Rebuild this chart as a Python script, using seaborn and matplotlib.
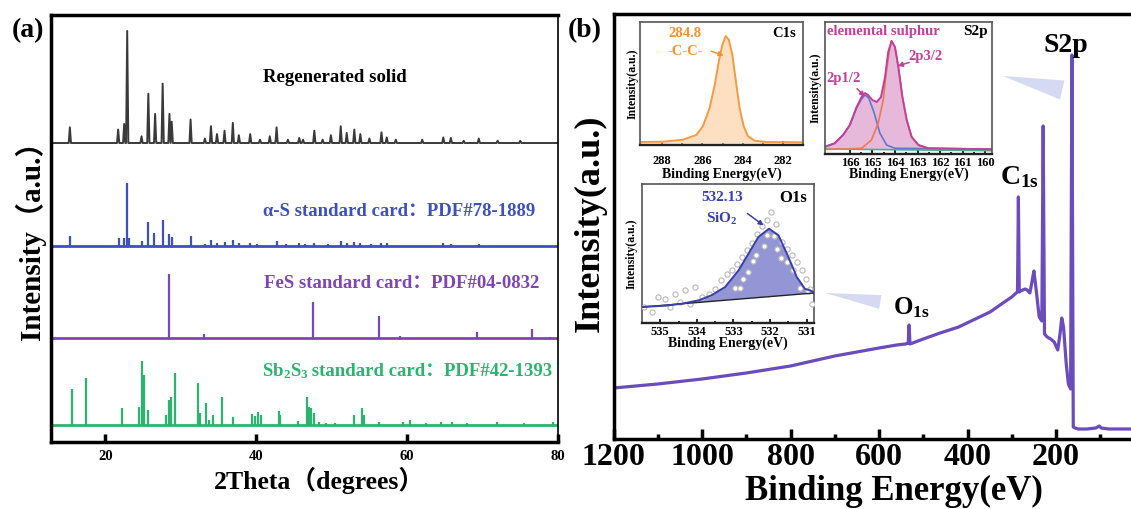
import numpy as np
import pandas as pd
import matplotlib
matplotlib.use("Agg")
import matplotlib.pyplot as plt
from matplotlib.ticker import FixedLocator
import seaborn as sns

# ---------------- panel (a): XRD data ----------------
regen_2theta = [15.3, 21.7, 22.5, 22.9, 24.8, 25.7, 26.6, 27.6, 28.5, 28.8, 31.3, 33.2, 34.0, 34.8,
                35.8, 36.9, 37.7, 39.2, 40.5, 41.8, 42.7, 44.2, 45.7, 46.2, 47.7, 48.8, 49.9, 51.2,
                52.0, 53.0, 53.8, 55.0, 56.6, 57.3, 58.5, 62.0, 64.8, 65.8, 67.5, 69.5, 72.0, 75.0]
regen_int = [0.14, 0.12, 0.17, 1.0, 0.06, 0.44, 0.26, 0.53, 0.26, 0.19, 0.21, 0.04, 0.15, 0.08,
             0.11, 0.18, 0.07, 0.08, 0.03, 0.06, 0.14, 0.03, 0.045, 0.03, 0.11, 0.03, 0.07, 0.15,
             0.09, 0.12, 0.08, 0.04, 0.095, 0.05, 0.03, 0.03, 0.05, 0.045, 0.02, 0.04, 0.02, 0.02]

alphaS_2theta = [15.3, 21.8, 22.5, 22.9, 23.1, 24.8, 25.7, 26.5, 27.7, 28.5, 28.8, 31.3, 33.2, 34.0,
                 34.8, 35.8, 36.9, 37.7, 39.2, 40.1, 42.8, 44.0, 45.7, 46.4, 47.7, 49.5, 51.2, 52.0,
                 53.0, 53.8, 55.2, 56.6, 57.3, 64.8, 65.8, 69.5]
alphaS_int = [0.16, 0.12, 0.13, 1.0, 0.12, 0.08, 0.38, 0.21, 0.41, 0.19, 0.14, 0.16, 0.03, 0.09,
              0.05, 0.07, 0.10, 0.05, 0.05, 0.03, 0.08, 0.03, 0.04, 0.03, 0.05, 0.03, 0.08, 0.05,
              0.07, 0.05, 0.03, 0.05, 0.04, 0.04, 0.03, 0.03]

fes_2theta = [28.5, 33.1, 47.5, 56.3, 59.0, 69.3, 76.6, 79.0]
fes_int = [1.0, 0.07, 0.56, 0.35, 0.03, 0.09, 0.14, 0.02]

sb2s3_2theta = [15.6, 17.5, 22.2, 24.4, 24.9, 25.1, 25.7, 28.0, 28.4, 28.7, 29.2, 32.3, 32.6, 33.3,
                33.7, 34.3, 35.5, 36.9, 39.5, 39.9, 40.3, 40.6, 43.0, 43.2, 45.5, 46.7, 47.0, 47.3,
                47.6, 48.3, 49.2, 50.5, 52.9, 54.0, 54.3, 56.3, 59.4, 60.4, 62.5, 64.5, 66.0, 68.0,
                71.9, 75.5, 79.4]
sb2s3_int = [0.57, 0.74, 0.27, 0.28, 1.0, 0.78, 0.23, 0.15, 0.39, 0.44, 0.82, 0.66, 0.19, 0.35,
             0.08, 0.16, 0.43, 0.13, 0.17, 0.14, 0.21, 0.16, 0.22, 0.16, 0.07, 0.44, 0.28, 0.26,
             0.19, 0.05, 0.03, 0.03, 0.16, 0.27, 0.16, 0.04, 0.05, 0.08, 0.03, 0.05, 0.04, 0.03,
             0.05, 0.03, 0.04]

xrd_ticks = [20, 40, 60, 80]
xrd_labels = ["Regenerated solid",
              "α-S standard card：PDF#78-1889",
              "FeS standard card：PDF#04-0832",
              " standard card：PDF#42-1393"]
sb_formula = r"Sb$_{2}$S$_{3}$"

# ---------------- panel (b): XPS survey ----------------
survey_be = [1200, 1150, 1100, 1050, 1000, 950, 900, 850, 800, 750, 700, 650, 600, 560, 540, 534,
             532, 530, 524, 500, 462, 420, 387, 349, 320, 300, 290, 287, 285, 283, 280, 270, 265,
             259, 254, 250, 245, 238, 232, 229, 226, 220, 212, 204, 196, 191, 187, 183, 177, 172,
             167, 164, 161, 157, 150, 130, 110, 102, 98, 80, 50, 20, 0]
survey_int = [51, 53, 55, 57.5, 60, 63, 66, 69.5, 73, 78, 83, 87, 91, 94, 95, 96,
              114, 95, 96, 100, 106, 112, 119, 127, 136, 142, 146, 147, 242, 147, 148, 150, 149,
              146, 158, 168, 150, 122, 118, 313, 105, 102, 100, 97, 89, 105, 121, 112, 76, 55,
              50, 384, 12, 11, 10, 10, 11, 13, 11, 10, 10, 10, 10]
survey_ticks = [1200, 1000, 800, 600, 400, 200]
survey_minor = [1100, 900, 700, 500, 300, 100]

# C1s inset
c1s_be = [289.1, 287.95, 286.96, 286.3, 285.97, 285.64, 285.39, 285.18, 285.01, 284.84, 284.68,
          284.51, 284.31, 284.15, 283.95, 283.74, 283.41, 282.83, 281.0]
c1s_int = [1, 1.3, 3.3, 8, 17, 35, 58, 82, 98, 107, 103, 88, 58, 35, 17, 7, 2.3, 1, 0.7]

# S2p inset
s2p_be = [167.1, 166.67, 166.3, 166.0, 165.7, 165.48, 165.33, 165.19, 165.0, 164.81, 164.62,
          164.44, 164.3, 164.15, 164.0, 163.85, 163.67, 163.48, 163.26, 162.96, 162.52, 159.6]
s2p_env = [7.3, 10.7, 19, 29, 47, 57, 61, 59, 54, 52, 57, 77, 102, 113, 107, 87, 57, 34, 17, 9,
           5.7, 4.7]
s2p32_be = [167.1, 166.07, 165.48, 165.04, 164.74, 164.52, 164.37, 164.22, 164.15, 164.0, 163.85,
            163.67, 163.48, 163.26, 162.96, 162.52, 159.6]
s2p32_int = [4.7, 5, 5.7, 14, 31, 54, 84, 107, 113, 107, 87, 57, 34, 17, 9, 5.7, 4.7]
s2p12_be = [167.1, 166.67, 166.3, 166.0, 165.7, 165.48, 165.33, 165.16, 164.92, 164.67, 164.37,
            164.0, 159.6]
s2p12_int = [7.3, 10.7, 19, 29, 46, 55, 59, 56, 41, 21, 9, 5.7, 5]
s2p_bg_be = [167.1, 159.6]
s2p_bg_int = [5, 3.3]

# O1s inset
o1s_be = [535.5, 534.86, 534.41, 533.95, 533.6, 533.23, 532.86, 532.59, 532.32, 532.03, 531.77,
          531.5, 531.27, 531.05, 530.8]
o1s_env = [16, 17.3, 19.3, 22.7, 27.7, 36, 52.7, 69.3, 86, 94.3, 87.7, 66, 46, 34.3, 31]
o1s_bg_be = [535.5, 530.8]
o1s_bg_int = [16, 30]
o1s_raw_be = [535.45, 535.23, 535.05, 534.86, 534.73, 534.59, 534.45, 534.32, 534.18, 534.05,
              533.86, 533.68, 533.5, 533.34, 533.18, 533.05, 532.91, 532.77, 532.64, 532.5,
              532.36, 532.23, 532.09, 531.97, 531.85, 531.68, 531.55, 531.41, 531.27, 531.14,
              531.03, 530.91, 530.85, 532.97, 532.83, 532.75, 532.61, 532.48, 532.38, 532.17,
              532.08, 531.88, 531.8, 531.71, 531.53, 531.38, 531.18, 530.97]
o1s_raw_int = [16, 11, 26, 24.3, 16, 29.3, 21, 32.7, 18.7, 36, 26, 29.3, 34.3, 42.7, 49.3, 52.7,
               59.3, 66, 73.3, 80, 88.7, 96.7, 103.3, 110.7, 98.7, 81, 74.3, 67.7, 61, 52.7, 44.3,
               34.3, 18.7, 35.3, 35.3, 44.3, 51, 61.7, 68.3, 76.7, 87.7, 86.7, 74.3, 65.3, 61,
               52.7, 35.3, 32]

# ---------------- style ----------------
sns.set_theme(style="ticks")
plt.rcParams.update({
    "font.family": ["Liberation Serif", "Noto Sans CJK SC"],
    "font.weight": "bold",
    "axes.labelweight": "bold",
    "mathtext.fontset": "custom",
    "mathtext.rm": "Liberation Serif:bold",
    "mathtext.it": "Liberation Serif:bold",
    "mathtext.bf": "Liberation Serif:bold",
    "mathtext.default": "rm",
    "axes.edgecolor": "black",
    "xtick.color": "black",
    "text.color": "black",
    "axes.labelcolor": "black",
})

C_BLACK = "#3a3a3a"
C_BLUE = "#3c50be"
C_PURPLE = "#7d46b4"
C_GREEN = "#2bb46e"
C_SURVEY = "#6a4cbc"

W, H = 1131, 509
fig = plt.figure(figsize=(W / 100, H / 100), dpi=100)


def fax(l, t, r, b):
    return fig.add_axes([l / W, 1 - b / H, (r - l) / W, (b - t) / H])


ax_a = fax(51, 15, 558, 442)
ax_b = fax(613.5, 14, 1144.5, 439)

# ---------------- panel (a) ----------------
XLO, XHI = 12.8, 80


def peak_trace(pos, hts, hw=0.15):
    xs, ys = [XLO], [0.0]
    for p, h in sorted(zip(pos, hts)):
        xs += [p - hw, p, p + hw]
        ys += [0.0, h, 0.0]
    xs.append(XHI)
    ys.append(0.0)
    return np.array(xs), np.array(ys)


base_regen, sc_regen = 299, 112
rx, ry = peak_trace(regen_2theta, regen_int)
sns.lineplot(x=rx, y=ry * sc_regen + base_regen, ax=ax_a, color=C_BLACK, lw=1.4,
             estimator=None, sort=False)

stick_sets = [(alphaS_2theta, alphaS_int, 196, 63, C_BLUE),
              (fes_2theta, fes_int, 104, 64, C_PURPLE),
              (sb2s3_2theta, sb2s3_int, 17, 64, C_GREEN)]
for pos, inten, base, sc, col in stick_sets:
    ax_a.vlines(pos, base, base + np.array(inten) * sc, color=col, lw=1.6)
    sns.lineplot(x=[XLO, XHI], y=[base, base], ax=ax_a, color=col, lw=2.0)

ax_a.set_xlim(XLO, XHI)
ax_a.set_ylim(0, 427)
ax_a.set_xticks(xrd_ticks)
ax_a.set_yticks([])
ax_a.tick_params(axis="x", direction="in", length=6, width=2.5, labelsize=10.5, pad=6)
for s in ["left", "top", "bottom"]:
    ax_a.spines[s].set_linewidth(2.5)
ax_a.spines["right"].set_linewidth(1.2)
ax_a.set_xlabel("2Theta（degrees）", fontsize=18.5)
ax_a.xaxis.set_label_coords(0.53, -0.058)
ax_a.set_ylabel("Intensity（a.u.）", fontsize=21)
ax_a.yaxis.set_label_coords(-0.01, 0.49)

ax_a.text(50.4, 365, xrd_labels[0], ha="center", va="center", fontsize=13.5, color="black")
ax_a.text(76.95, 231, xrd_labels[1], ha="right", va="center", fontsize=13.5, color=C_BLUE)
ax_a.text(77.5, 159, xrd_labels[2], ha="right", va="center", fontsize=13.5, color=C_PURPLE)
t_sb = ax_a.text(79.2, 66, xrd_labels[3], ha="right", va="baseline", fontsize=13.5, color=C_GREEN)
ax_a.annotate(sb_formula, xy=(0, 0), xycoords=t_sb, xytext=(1.6, 2.9),
              textcoords="offset points", ha="right", va="baseline",
              fontsize=13.5, color=C_GREEN, annotation_clip=False)

# ---------------- panel (b) ----------------
sns.lineplot(x=survey_be, y=survey_int, ax=ax_b, color=C_SURVEY, lw=2.3,
             estimator=None, sort=False)
ax_b.set_xlim(1200, 0)
ax_b.set_ylim(0, 425)
ax_b.xaxis.set_major_locator(FixedLocator(survey_ticks))
ax_b.xaxis.set_minor_locator(FixedLocator(survey_minor))
ax_b.set_yticks([])
ax_b.tick_params(axis="x", which="major", direction="in", length=7, width=2.5, labelsize=23, pad=3)
ax_b.tick_params(axis="x", which="minor", direction="in", length=3.5, width=2.5)
for s in ["left", "top", "bottom"]:
    ax_b.spines[s].set_linewidth(2.5)
ax_b.spines["right"].set_visible(False)
ax_b.set_xlabel("Binding Energy(eV)", fontsize=25)
ax_b.xaxis.set_label_coords(0.528, -0.085)
ax_b.set_ylabel("Intensity(a.u.)", fontsize=26)
ax_b.yaxis.set_label_coords(-0.012, 0.508)

ax_b.text(177, 394, "S2p", ha="center", va="center", fontsize=20)
ax_b.text(327, 262, r"C$_{1s}$", ha="left", va="center", fontsize=20)
ax_b.text(568, 131, r"O$_{1s}$", ha="left", va="center", fontsize=18)

ax_b.annotate("", xy=(320, 363), xytext=(186, 349),
              arrowprops=dict(arrowstyle="wedge,tail_width=0.7", fc="#d6d9f2", ec="none",
                              mutation_scale=20, shrinkA=0, shrinkB=0))
ax_b.annotate("", xy=(721, 146), xytext=(597, 137),
              arrowprops=dict(arrowstyle="wedge,tail_width=0.5", fc="#d6d9f2", ec="none",
                              mutation_scale=20, shrinkA=0, shrinkB=0))

# ---------------- insets ----------------
ax_c = fax(640, 22, 803, 145)
ax_s = fax(825, 22, 992, 154)
ax_o = fax(642, 184, 814, 323)


def style_inset(ax, xlim, ylim, major, minor, pad, xl_y, yl_x):
    ax.set_facecolor("white")
    ax.set_xlim(*xlim)
    ax.set_ylim(*ylim)
    ax.xaxis.set_major_locator(FixedLocator(major))
    ax.xaxis.set_minor_locator(FixedLocator(minor))
    ax.set_yticks([])
    ax.tick_params(axis="x", which="major", direction="in", length=3, width=1.2,
                   labelsize=9, pad=pad)
    ax.tick_params(axis="x", which="minor", direction="in", length=1.5, width=1.2)
    for s in ax.spines.values():
        s.set_linewidth(1.2)
        s.set_color("#555555")
    ax.spines["bottom"].set_linewidth(1.7)
    ax.spines["bottom"].set_color("#222222")
    ax.set_xlabel("Binding Energy(eV)", fontsize=10)
    ax.xaxis.set_label_coords(0.5, xl_y)
    ax.set_ylabel("Intensity(a.u.)", fontsize=8.5)
    ax.yaxis.set_label_coords(yl_x, 0.5)


# C1s
C_OR = "#f39a43"
ax_c.fill_between(c1s_be, c1s_int, 0, color="#fde0c2", lw=0)
sns.lineplot(x=c1s_be, y=c1s_int, ax=ax_c, color=C_OR, lw=1.4, estimator=None, sort=False)
style_inset(ax_c, (289.1, 281.0), (-2, 121), [288, 286, 284, 282], [287, 285, 283],
            7, -0.18, -0.01)
ax_c.text(0.276, 0.91, "284.8", transform=ax_c.transAxes, ha="center", va="center",
          fontsize=10.5, color="#f39233")
ax_c.text(0.276, 0.76, "-C-C-", transform=ax_c.transAxes, ha="center", va="center",
          fontsize=10.5, color="#f39233")
ax_c.text(0.96, 0.91, "C1s", transform=ax_c.transAxes, ha="right", va="center", fontsize=10.5)
ax_c.annotate("", xy=(0.53, 0.72), xytext=(0.42, 0.77), xycoords="axes fraction",
              arrowprops=dict(arrowstyle="-|>", color="#f39233", lw=1.1, mutation_scale=7))

# S2p
C_MAG = "#c0409a"
ax_s.fill(list(s2p_be) + s2p_bg_be[::-1], list(s2p_env) + s2p_bg_int[::-1],
          color="#e6b8d9", lw=0)
sns.lineplot(x=s2p_bg_be, y=s2p_bg_int, ax=ax_s, color="#40b090", lw=1.2, estimator=None, sort=False)
sns.lineplot(x=s2p12_be, y=s2p12_int, ax=ax_s, color="#6477c8", lw=1.2, estimator=None, sort=False)
sns.lineplot(x=s2p32_be, y=s2p32_int, ax=ax_s, color="#f07a50", lw=1.2, estimator=None, sort=False)
sns.lineplot(x=s2p_be, y=s2p_env, ax=ax_s, color=C_MAG, lw=1.4, estimator=None, sort=False)
style_inset(ax_s, (167.1, 159.7), (0, 132), [166, 165, 164, 163, 162, 161, 160],
            [165.5, 164.5, 163.5, 162.5, 161.5, 160.5], 2, -0.10, -0.02)
ax_s.text(0.01, 0.925, "elemental sulphur", transform=ax_s.transAxes, ha="left", va="center",
          fontsize=10.5, color=C_MAG)
ax_s.text(0.975, 0.925, "S2p", transform=ax_s.transAxes, ha="right", va="center", fontsize=11)
ax_s.text(0.60, 0.735, "2p3/2", transform=ax_s.transAxes, ha="center", va="center",
          fontsize=10.5, color=C_MAG)
ax_s.text(0.11, 0.575, "2p1/2", transform=ax_s.transAxes, ha="center", va="center",
          fontsize=10.5, color=C_MAG)
ax_s.annotate("", xy=(0.42, 0.66), xytext=(0.52, 0.70), xycoords="axes fraction",
              arrowprops=dict(arrowstyle="-|>", color=C_MAG, lw=1.1, mutation_scale=7))
ax_s.annotate("", xy=(0.25, 0.42), xytext=(0.18, 0.51), xycoords="axes fraction",
              arrowprops=dict(arrowstyle="-|>", color=C_MAG, lw=1.1, mutation_scale=7))

# O1s
C_OB = "#3a40a8"
ax_o.fill(list(o1s_be) + o1s_bg_be[::-1], list(o1s_env) + o1s_bg_int[::-1],
          color="#9495d4", lw=0, zorder=1)
sns.scatterplot(x=o1s_raw_be, y=o1s_raw_int, ax=ax_o, s=14, color="white",
                edgecolor="#b8b8b8", linewidth=0.8, zorder=3)
sns.lineplot(x=o1s_bg_be, y=o1s_bg_int, ax=ax_o, color="#222222", lw=1.0, estimator=None,
             sort=False, zorder=4)
sns.lineplot(x=o1s_be, y=o1s_env, ax=ax_o, color=C_OB, lw=1.4, estimator=None, sort=False,
             zorder=5)
style_inset(ax_o, (535.5, 530.8), (0, 139), [535, 534, 533, 532, 531],
            [534.5, 533.5, 532.5, 531.5], 2, -0.10, -0.025)
ax_o.text(0.465, 0.90, "532.13", transform=ax_o.transAxes, ha="center", va="center",
          fontsize=11, color=C_OB)
ax_o.text(0.465, 0.745, r"SiO$_{2}$", transform=ax_o.transAxes, ha="center", va="center",
          fontsize=11, color=C_OB)
ax_o.text(0.96, 0.90, "O1s", transform=ax_o.transAxes, ha="right", va="center", fontsize=12)
ax_o.annotate("", xy=(0.72, 0.69), xytext=(0.60, 0.80), xycoords="axes fraction",
              arrowprops=dict(arrowstyle="-|>", color=C_OB, lw=1.1, mutation_scale=7))

# panel labels
fig.text(28 / W, 1 - 31 / H, "(a)", ha="center", va="center", fontsize=20)
fig.text(585 / W, 1 - 31 / H, "(b)", ha="center", va="center", fontsize=20)

fig.savefig("out.png", dpi=100)
